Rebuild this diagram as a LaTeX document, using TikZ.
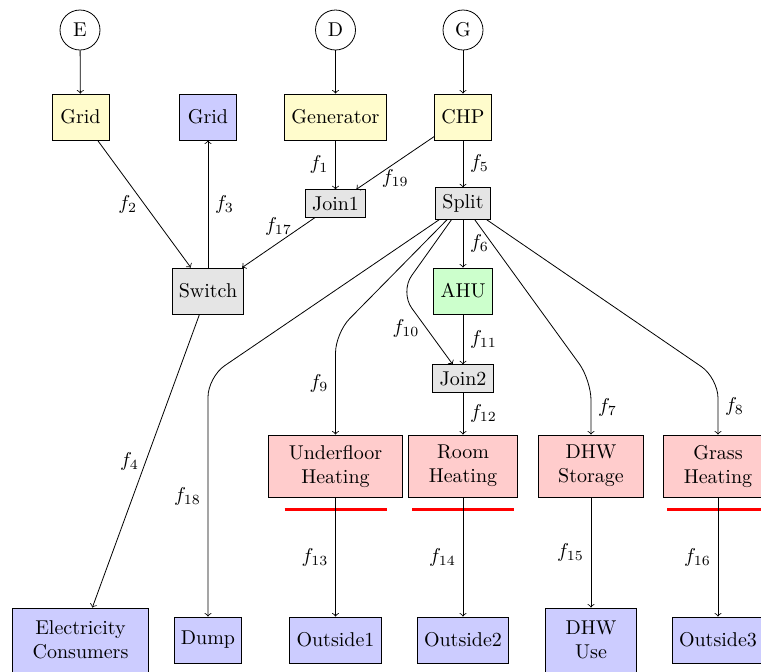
\documentclass[tikz,border=0pt]{standalone}
\begin{document}
\begin{tikzpicture}[x=0.5pt,y=-0.5pt,
  src/.style={circle,draw,minimum size=20pt,inner sep=0pt},
  box/.style={rectangle,draw,minimum width=1cm,minimum height=23pt},
  smallbox/.style={rectangle,draw,fill=gray!20},
  twol/.style={rectangle,draw,align=center,inner xsep=10pt,minimum height=31pt},
  redbar/.style={draw=red,line width=1.2pt},
  flow/.style={->}]
\useasboundingbox (0,0) rectangle (761,671);
% sources
\node[src] (E) at (80,30) {E};
\node[src] (D) at (335.5,30) {D};
\node[src] (G) at (463,30) {G};
% top row
\node[box,fill=yellow!20] (gridin) at (80.5,117) {Grid};
\node[box,fill=blue!20] (gridout) at (208,117) {Grid};
\node[box,fill=yellow!20] (gen) at (335.5,117) {Generator};
\node[box,fill=yellow!20] (chp) at (463,117) {CHP};
% middle
\node[smallbox] (join1) at (335.5,203.5) {Join1};
\node[smallbox] (split) at (463,203.5) {Split};
\node[box,fill=gray!20] (switch) at (208,291) {Switch};
\node[box,fill=green!20] (ahu) at (463,291) {AHU};
\node[smallbox] (join2) at (463,378.5) {Join2};
% consumers
\node[twol,fill=red!20] (uf) at (335.5,466) {Underfloor\\Heating};
\node[twol,fill=red!20] (room) at (463,466) {Room\\Heating};
\node[twol,fill=red!20] (dhws) at (591,466) {DHW\\Storage};
\node[twol,fill=red!20] (grass) at (718,466) {Grass\\Heating};
% sinks
\node[twol,fill=blue!20,minimum height=32pt] (elec) at (80.5,640) {Electricity\\Consumers};
\node[box,fill=blue!20] (dump) at (208,640) {Dump};
\node[box,fill=blue!20] (out1) at (335.5,640) {Outside1};
\node[box,fill=blue!20] (out2) at (463,640) {Outside2};
\node[twol,fill=blue!20,minimum height=32pt] (dhwu) at (591,640) {DHW\\Use};
\node[box,fill=blue!20] (out3) at (718,640) {Outside3};
% red bars
\draw[redbar] ([xshift=-25.5pt,yshift=-6pt]uf.south) -- ([xshift=25.5pt,yshift=-6pt]uf.south);
\draw[redbar] ([xshift=-25.5pt,yshift=-6pt]room.south) -- ([xshift=25.5pt,yshift=-6pt]room.south);
\draw[redbar] ([xshift=-25.5pt,yshift=-6pt]grass.south) -- ([xshift=25.5pt,yshift=-6pt]grass.south);
% bend points
\coordinate (c18) at (208,377);
\coordinate (c9) at (335.5,333);
\coordinate (c10) at (400,292);
\coordinate (c7) at (591,380);
\coordinate (c8) at (718,378);
% connectors
\draw[flow] (E) -- (gridin);
\draw[flow] (D) -- (gen);
\draw[flow] (G) -- (chp);
\draw[flow] (gridin) -- node[midway,left]{$f_2$} (switch);
\draw[flow] (switch) -- node[midway,right]{$f_3$} (gridout);
\draw[flow] (gen) -- node[midway,left]{$f_1$} (join1);
\draw[flow] (chp) -- node[midway,below]{$f_{19}$} (join1);
\draw[flow] (join1) -- node[midway,above]{$f_{17}$} (switch);
\draw[flow] (switch) -- node[midway,left]{$f_4$} (elec);
\draw[flow] (chp) -- node[midway,right]{$f_5$} (split);
\draw[flow] (split) -- node[midway,right]{$f_6$} (ahu);
\draw[flow] (ahu) -- node[midway,right]{$f_{11}$} (join2);
\draw[flow] (join2) -- node[midway,right]{$f_{12}$} (room);
\draw[flow,rounded corners=10pt] (split) -- (c18) -- node[midway,left]{$f_{18}$} (dump);
\draw[flow,rounded corners=10pt] (split) -- (c9) -- node[midway,left]{$f_9$} (uf);
\draw[flow,rounded corners=10pt] (split) -- (c10) -- node[midway,left]{$f_{10}$} (join2);
\draw[flow,rounded corners=10pt] (split) -- (c7) -- node[midway,right]{$f_7$} (dhws);
\draw[flow,rounded corners=10pt] (split) -- (c8) -- node[midway,right]{$f_8$} (grass);
\draw[flow] (uf) -- node[midway,left]{$f_{13}$} (out1);
\draw[flow] (room) -- node[midway,left]{$f_{14}$} (out2);
\draw[flow] (dhws) -- node[midway,left]{$f_{15}$} (dhwu);
\draw[flow] (grass) -- node[midway,left]{$f_{16}$} (out3);
\end{tikzpicture}
\end{document}
